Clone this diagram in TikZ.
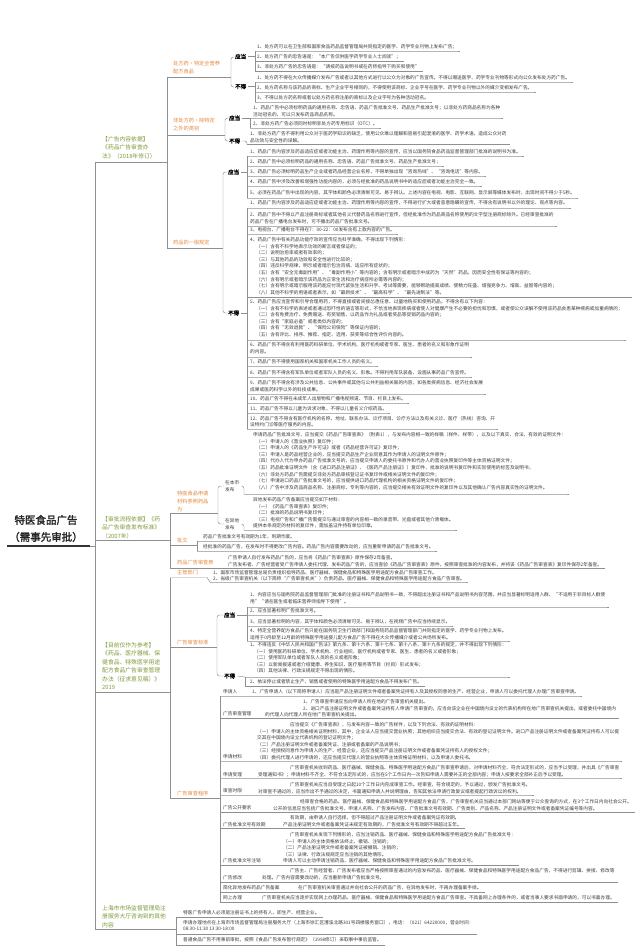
\documentclass[tikz,border=0pt]{standalone}
\usepackage{fontspec}
\setmainfont{Noto Sans CJK SC}[AutoFakeBold=2]
\newfontfamily\cjk{Noto Sans CJK SC}[AutoFakeBold=2]
\definecolor{lineC}{HTML}{8F8F8F}
\definecolor{txtC}{HTML}{3C3C3C}
\definecolor{orgC}{HTML}{E3893F}
\definecolor{grnC}{HTML}{7E9A3A}
\newcommand\itmfont{\cjk\fontsize{4.7}{6.55}\selectfont}
\newcommand\labfont{\cjk\bfseries\fontsize{5.5}{6.5}\selectfont}
\newcommand\orgfont{\cjk\fontsize{5.2}{8}\selectfont}
\newcommand\grnfont{\cjk\fontsize{5.8}{8.5}\selectfont}
\newcommand\rootfont{\cjk\bfseries\fontsize{10.5}{17}\selectfont}
\newcommand{\UL}[3]{\draw[ln] (#1,#2) -- (#3.east |- 0,#2) -- ++(3,0);}
\tikzset{
 ln/.style={draw=lineC, line width=0.45pt},
 itm/.style={font=\itmfont, text=txtC, inner sep=0pt, align=left, anchor=west},
 lab/.style={font=\labfont, text=black, inner sep=0pt, anchor=west},
 org/.style={font=\orgfont, text=orgC, inner sep=0pt, align=left, anchor=west},
 grn/.style={font=\grnfont, text=grnC, inner sep=0pt, align=left, anchor=west},
 rootn/.style={font=\rootfont, text=black!85, inner sep=0pt, align=center},
 brk/.style={ln, rounded corners=2.5pt}
}
\begin{document}
\begin{tikzpicture}[x=1pt,y=-1pt]
\fill[white] (0,0) rectangle (640,950);
\useasboundingbox (0,0) rectangle (640,950);

% ---------- root and trunk
\node[rootn] (root) at (46,528.5) {特医食品广告\\（需事先审批）};
\draw[black!80, line width=1.2pt] (7,546) -- (90,546);
\draw[ln] (90,546) -- (95,546);
\draw[ln] (95,162) -- (95,929);

% ---------- branch 1
\node[grn] (g1) at (102,147.5) {【广告内容依据】\\《药品广告审查办\\法》（2018年修订）};
\draw[ln] (95,162) -- (167,162);
\draw[ln] (167,77) -- (167,248);

% sub 1
\node[org] (o1) at (173,68) {处方药·特定全营养\\配方食品};
\draw[ln] (167,77) -- (231,77);
\draw[brk] (234,57) -- (231,57) -- (231,87) -- (234,87);
\node[lab] (y1) at (235,56.5) {应当};
\node[lab] (n1) at (235,86.5) {不得};
\draw[ln] ([xshift=2pt]y1.east) -- (255,56.5);
\draw[ln] (255,51) -- (255,71.5);
\node[itm] (a1) at (257,47) {1、处方药可以在卫生部和国家食品药品监督管理局共同指定的医学、药学专业刊物上发布广告；};
\UL{255}{51}{a1}
\node[itm] (a2) at (257,57) {2、处方药广告的忠告语是：“本广告仅供医学药学专业人士阅读”；};
\UL{255}{61.5}{a2}
\node[itm] (a3) at (257,67) {3、非处方药广告的忠告语是：“请按药品说明书或在药师指导下购买和使用”};
\UL{255}{71.5}{a3}
\draw[ln] ([xshift=2pt]n1.east) -- (255,86.5);
\draw[ln] (255,82) -- (255,102);
\node[itm] (a4) at (257,78) {1、处方药不得在大众传播媒介发布广告或者以其他方式进行以公众为对象的广告宣传。不得以赠送医学、药学专业刊物等形式向公众发布处方药广告。};
\UL{255}{82}{a4}
\node[itm] (a5) at (257,88) {2、处方药名称与该药品的商标、生产企业字号相同的，不得使用该商标、企业字号在医学、药学专业刊物以外的媒介变相发布广告。};
\UL{255}{92}{a5}
\node[itm] (a6) at (257,98) {3、不得以处方药名称或者以处方药名称注册的商标以及企业字号为各种活动冠名。};
\UL{255}{102}{a6}

% sub 2
\node[org] (o2) at (173,125) {非处方药·除特定\\之外的类别};
\draw[ln] (167,135) -- (225,135);
\draw[brk] (229,118) -- (225,118) -- (225,141) -- (229,141);
\node[lab] (y2) at (229,118) {应当};
\node[lab] (n2) at (229,141) {不得};
\draw[ln] ([xshift=2pt]y2.east) -- (250,118);
\draw[ln] (250,118) -- (250,128);
\node[itm] (b1) at (253,111.3) {1、药品广告中必须标明药品的通用名称、忠告语、药品广告批准文号、药品生产批准文号；以非处方药商品名称为各种\\活动冠名的，可以只发布药品商品名称。};
\UL{250}{118}{b1}
\node[itm] (b2) at (253,124) {2、非处方药广告必须同时标明非处方药专用标识（OTC）。};
\UL{250}{128}{b2}
\draw[brk] ([xshift=2pt]n2.east) -- (247,141) -- (247,144.5);
\node[itm] (b3) at (250,137.3) {1、非处方药广告不得利用公众对于医药学知识的缺乏，使用公众难以理解和容易引起混淆的医学、药学术语，造成公众对药\\品功效与安全性的误解。};
\UL{247}{144.5}{b3}

% sub 3
\node[org] (o3) at (173,243) {药品的一般规定};
\draw[ln] (167,248) -- (223,248);
\draw[brk] (228,172) -- (223,172) -- (223,313) -- (228,313);
\node[lab] (y3) at (228,172) {应当};
\node[lab] (n3) at (228,313) {不得};
\draw[ln] ([xshift=2pt]y3.east) -- (247,172);
\draw[ln] (247,156) -- (247,198);
\node[itm] (c1) at (250,152) {1、药品广告内容涉及药品适应症或者功能主治、药理作用等内容的宣传，应当以国务院食品药品监督管理部门批准的说明书为准。};
\UL{247}{156}{c1}
\node[itm] (c2) at (250,162) {2、药品广告中必须标明药品的通用名称、忠告语、药品广告批准文号、药品生产批准文号；};
\UL{247}{166}{c2}
\node[itm] (c3) at (250,172) {3、药品广告必须标明药品生产企业或者药品经营企业名称，不得单独出现“咨询热线”、“咨询电话”等内容。};
\UL{247}{176}{c3}
\node[itm] (c4) at (250,181.5) {4、药品广告中涉及改善和增强性功能内容的，必须与经批准的药品说明书中的适应症或者功能主治完全一致。};
\UL{247}{186}{c4}
\node[itm] (c5) at (250,193) {5、必须在药品广告中出现的内容，其字体和颜色必须清晰可见、易于辨认。上述内容在电视、电影、互联网、显示屏等媒体发布时，出现时间不得少于5秒。};
\UL{247}{198}{c5}
\draw[ln] ([xshift=2pt]n3.east) -- (247,313);
\draw[ln] (247,208) -- (247,429);
\node[itm] (c6) at (250,203) {1、药品广告内容涉及药品适应症或者功能主治、药理作用等内容的宣传，不得进行扩大或者恶意隐瞒的宣传，不得含有说明书以外的理论、观点等内容。};
\UL{247}{208}{c6}
\node[itm] (c7) at (250,218.3) {2、药品广告中不得以产品注册商标或者其他名义代替药品名称进行宣传，但经批准作为药品商品名称使用的文字型注册商标除外。已经审查批准的\\药品广告在广播电台发布时，可不播出药品广告批准文号。};
\UL{247}{226}{c7}
\node[itm] (c8) at (250,230) {3、电视台、广播电台不得在7：00-22：00发布含有上款内容的广告。};
\UL{247}{234}{c8}
\node[itm] (c9) at (250,266.2) {4、药品广告中有关药品功能疗效的宣传应当科学准确，不得出现下列情形：\\\hspace*{6pt}（一）含有不科学地表示功效的断言或者保证的；\\\hspace*{6pt}（二）说明治愈率或者有效率的；\\\hspace*{6pt}（三）与其他药品的功效和安全性进行比较的；\\\hspace*{6pt}（四）违反科学规律，明示或者暗示包治百病、适应所有症状的；\\\hspace*{6pt}（五）含有“安全无毒副作用”、“毒副作用小”等内容的；含有明示或者暗示中成药为“天然”药品，因而安全性有保证等内容的；\\\hspace*{6pt}（六）含有明示或者暗示该药品为正常生活和治疗病症所必需等内容的；\\\hspace*{6pt}（七）含有明示或暗示服用该药能应付现代紧张生活和升学、考试等需要，能够帮助提高成绩、使精力旺盛、增强竞争力、增高、益智等内容的；\\\hspace*{6pt}（八）其他不科学的用语或者表示，如“最新技术”、“最高科学”、“最先进制法”等。};
\draw[ln] (247,297) -- (632,297);
\node[itm] (c10) at (250,318.4) {5、药品广告应当宣传和引导合理用药，不得直接或者间接怂恿任意、过量地购买和使用药品，不得含有以下内容：\\\hspace*{6pt}（一）含有不科学的表述或者通过恐吓性的语言等形式，不恰当地表现疾病或者使人对健康产生不必要的担忧和恐惧，或者使公众误解不使用该药品会患某种疾病或加重病情的；\\\hspace*{6pt}（二）含有免费治疗、免费赠送、有奖销售、以药品作为礼品或者奖品等促销药品内容的；\\\hspace*{6pt}（三）含有“家庭必备”或者类似内容的；\\\hspace*{6pt}（四）含有“无效退款”、“保险公司保险”等保证内容的；\\\hspace*{6pt}（五）含有评比、排序、推荐、指定、选用、获奖等综合性评价内容的。};
\UL{247}{340}{c10}
\node[itm] (c11) at (250,348.3) {6、药品广告不得含有利用医药科研单位、学术机构、医疗机构或者专家、医生、患者的名义和形象作证明\\的内容。};
\UL{247}{357}{c11}
\node[itm] (c12) at (250,362) {7、药品广告不得使用国家机关和国家机关工作人员的名义。};
\UL{247}{366}{c12}
\node[itm] (c13) at (250,373) {8、药品广告不得含有军队单位或者军队人员的名义、形象。不得利用军队装备、设施从事药品广告宣传。};
\UL{247}{377}{c13}
\node[itm] (c14) at (250,386.3) {9、药品广告不得含有涉及公共信息、公共事件或其他与公共利益相关联的内容，如各类疾病信息、经济社会发展\\成果或医药科学以外的科技成果。};
\UL{247}{394}{c14}
\node[itm] (c15) at (250,399) {10、药品广告不得在未成年人出版物和广播电视频道、节目、栏目上发布。};
\UL{247}{403}{c15}
\node[itm] (c16) at (250,409) {11、药品广告不得以儿童为诉求对象，不得以儿童名义介绍药品。};
\UL{247}{413}{c16}
\node[itm] (c17) at (250,421.8) {12、药品广告不得含有医疗机构的名称、地址、联系办法、诊疗项目、诊疗方法以及有关义诊、医疗（热线）咨询、开\\设特约门诊等医疗服务的内容。};
\UL{247}{429}{c17}

% ---------- branch 2
\node[grn] (g2) at (102,527.5) {【审批流程依据】《药\\品广告审查发布标准》\\（2007年）};
\draw[ln] (95,540) -- (170,540);
\draw[ln] (170,513) -- (170,568.5);
\node[org] (o4) at (177,501) {特医食品申请\\材料参照药品\\为};
\draw[ln] (170,513) -- (218,513);
\draw[brk] (224,486) -- (218,486) -- (218,524) -- (224,524);
\node[itm] (s1) at (225,486) {在本市\\发布};
\node[itm] (s2) at (225,524) {在异地\\发布};
\draw[brk] ([xshift=2pt]s1.east) -- (244,486) -- (244,494);
\node[itm] (d1) at (253,461.2) {申请药品广告批准文号，应当提交《药品广告审查表》（附表1），与发布内容相一致的样稿（样件、样带），以及以下真实、合法、有效的证明文件：\\\hspace*{3pt}（一）申请人的《营业执照》复印件；\\\hspace*{3pt}（二）申请人的《药品生产许可证》或者《药品经营许可证》复印件；\\\hspace*{3pt}（三）申请人是药品经营企业的，应当提交药品生产企业同意其作为申请人的证明文件原件；\\\hspace*{3pt}（四）代办人代为申办药品广告批准文号的，应当提交申请人的委托书原件和代办人的营业执照复印件等主体资格证明文件；\\\hspace*{3pt}（五）药品批准证明文件（含《进口药品注册证》、《医药产品注册证》）复印件、批准的说明书复印件和实际使用的标签及说明书；\\\hspace*{3pt}（六）非处方药品广告需提交非处方药品审核登记证书复印件或相关证明文件的复印件；\\\hspace*{3pt}（七）申请进口药品广告批准文号的，应当提供进口药品代理机构的相关资格证明文件的复印件；\\\hspace*{3pt}（八）广告中涉及药品商品名称、注册商标、专利等内容的，应当提交相关有效证明文件的复印件以及其他确认广告内容真实性的证明文件。};
\UL{244}{494}{d1}
\draw[brk] ([xshift=2pt]s2.east) -- (244,524) -- (244,530);
\node[itm] (d2) at (253,513.1) {异地发布药品广告备案应当提交如下材料：\\\hspace*{3pt}（一）《药品广告审查表》复印件；\\\hspace*{3pt}（二）批准的药品说明书复印件；\\\hspace*{3pt}（三）电视广告和广播广告需提交与通过审查的内容相一致的录音带、光盘或者其他介质载体。\\提供本条规定的材料的复印件，需加盖证件持有单位印章。};
\UL{244}{530}{d2}

\node[org] (o5) at (177,540.5) {批文};
\draw[ln] (170,545) -- (197,545);
\draw[ln] (197,541) -- (197,551);
\node[itm] (e1) at (203,537) {药品广告批准文号有效期为1年，到期作废。};
\UL{197}{541}{e1}
\node[itm] (e2) at (203,547) {经批准的药品广告，在发布时不得更改广告内容。药品广告内容需要改动的，应当重新申请药品广告批准文号。};
\UL{197}{551}{e2}

\node[org] (o6) at (177,563) {药品广告审查表};
\node[itm] (f1) at (228,561.3) {广告申请人自行发布药品广告的，应当将《药品广告审查表》原件保存2年备查。\\广告发布者、广告经营者受广告申请人委托代理、发布药品广告的，应当查验《药品广告审查表》原件，按照审查批准的内容发布，并将该《药品广告审查表》复印件保存2年备查。};
\UL{170}{568.5}{f1}

% ---------- branch 3
\node[grn] (g3) at (102,666.3) {【目前仅作为参考】\\《药品、医疗器械、保\\健食品、特殊医学用途\\配方食品广告审查管理\\办法（征求意见稿）》\\2019};
\draw[ln] (95,692) -- (170,692);
\draw[ln] (170,577.5) -- (170,798);

\node[org] (o7) at (177,573) {主管部门};
\draw[ln] (170,577.5) -- (207,577.5) -- (210,582);
\node[itm] (gm) at (213,575.8) {1、国家市场监督管理总局负责组织指导药品、医疗器械、保健食品和特殊医学用途配方食品广告审查工作。\\2、省级广告审查机关（以下简称“广告审查机关”）负责药品、医疗器械、保健食品和特殊医学用途配方食品广告审查。};
\UL{210}{582}{gm}

\node[org] (o8) at (177,643) {广告审查标准};
\draw[ln] (170,647) -- (217,647);
\draw[brk] (224,615) -- (217,615) -- (217,676) -- (224,676);
\node[lab] (y4) at (224,615) {应当};
\node[lab] (n4) at (224,676) {不得};
\draw[ln] ([xshift=2pt]y4.east) -- (247,615);
\draw[ln] (247,607) -- (247,641);
\node[itm] (h1) at (250,598.3) {1、内容应当与国务院药品监督管理部门批准的注册证书和产品说明书一致，不得超出注册证书和产品说明书内容范围，并应当显著标明适用人群、“不适用于非目标人群使\\用”“请在医生或者临床营养师指导下使用”。};
\UL{247}{607}{h1}
\node[itm] (h2) at (250,611) {2、应当显著标明广告批准文号。};
\UL{247}{615}{h2}
\node[itm] (h3) at (250,622) {3、应当显著标明的内容，其字体和颜色必须清晰可见、易于辨认，在视频广告中应当持续显示。};
\UL{247}{626}{h3}
\node[itm] (h4) at (250,634.3) {4、特定全营养配方食品广告只能在国务院卫生行政部门和国务院药品监督管理部门共同指定的医学、药学专业刊物上发布。\\适用于0月龄至12月龄的特殊医学用途婴儿配方食品广告不得在大众传播媒介或者公共场所发布。};
\UL{247}{641}{h4}
\draw[ln] ([xshift=2pt]n4.east) -- (245,677);
\draw[ln] (245,677) -- (245,686.5);
\node[itm] (i1) at (250,658.1) {1、不得违反《中华人民共和国广告法》第九条、第十六条、第十七条、第十八条、第十九条的规定，并不得出现下列情形：\\\hspace*{4pt}（一）使用医药科研单位、学术机构、行业组织、医疗机构或者专家、医生、患者的名义或者形象；\\\hspace*{4pt}（二）使用军队单位或者军队人员的名义或者形象；\\\hspace*{4pt}（三）以新闻报道或者介绍健康、养生知识、医疗服务等节目（栏目）形式发布；\\\hspace*{4pt}（四）其他法律、行政法规规定不得出现的情形。};
\UL{245}{677}{i1}
\node[itm] (i2) at (250,682) {2、依法停止或者禁止生产、销售或者使用的特殊医学用途配方食品不得发布广告。};
\UL{245}{686.5}{i2}

\node[org] (o9) at (177,794) {广告审查程序};
\draw[ln] (170,798) -- (220,798);
\draw[ln] (220,696) -- (220,902);
\node[itm] (k1) at (223,691.5) {申请人};
\node[itm] (j1) at (252,692) {1、广告申请人（以下简称申请人）应当是产品注册证明文件或者备案凭证持有人及其授权同意的生产、经营企业，申请人可以委托代理人办理广告审查申请。};
\UL{220}{696}{j1}
\node[itm] (k2) at (223,714) {广告审查管理};
\node[itm] (j2) at (265,708.6) {\hspace*{38pt}1、广告审查申请应当向申请人所在地的广告审查机关提出。\\\hspace*{38pt}2、进口产品注册证明文件或者备案凭证持有人申请广告审查的，应当向该企业在中国境内设立的代表机构所在地广告审查机关提出，或者委托中国境内\\的代理人向代理人所在地广告审查机关提出。};
\UL{220}{718.5}{j2}
\node[itm] (k3) at (223,757) {申请材料};
\node[itm] (j3) at (257,741.4) {\hspace*{33pt}应当提交《广告审查表》，与发布内容一致的广告样件，以及下列合法、有效的证明材料：\\（一）申请人的主体资格相关证明材料，其中，企业法人应当提交营业执照；其他组织应当提交合法、有效的登记证明文件。进口产品注册证明文件或者备案凭证持有人可以提\\交其在中国境内设立代表机构的登记证明文件；\\（二）产品注册证明文件或者备案凭证、注册或者备案的产品说明书；\\（三）经授权同意作为申请人的生产、经营企业，还应当提交产品注册证明文件或者备案凭证持有人的授权文件；\\（四）委托代理人进行申请的，还应当提交代理人的营业执照等主体资格证明材料，以及申请人委托书。};
\UL{220}{761}{j3}
\node[itm] (k4) at (223,774.5) {申请受理};
\node[itm] (j4) at (258,771.3) {\hspace*{32pt}广告审查机关收到药品、医疗器械、保健食品、特殊医学用途配方食品广告审查申请后，对申请材料齐全、符合法定形式的，应当予以受理，并出具《广告审查\\受理通知书》；申请材料不齐全、不符合法定形式的，应当在5个工作日内一次告知申请人需要补正的全部内容；申请人按要求全部补正后予以受理。};
\UL{220}{778}{j4}
\node[itm] (k5) at (223,791) {审查时限};
\node[itm] (j5) at (258,788.3) {\hspace*{32pt}广告审查机关应当自受理之日起10个工作日内完成审查工作。经审查，符合规定的，予以通过，颁发广告批准文号。\\对审查不通过的，应当作出不予通过的决定，书面通知申请人并说明理由，告知其依法申请行政复议或者提起行政诉讼的权利。};
\UL{220}{795}{j5}
\node[itm] (k6) at (223,808) {广告公开要求};
\node[itm] (j6) at (273,805.3) {\hspace*{27pt}经审查合格的药品、医疗器械、保健食品和特殊医学用途配方食品广告，广告审查机关应当通过本部门网站等便于公众查询的方式，在3个工作日内向社会公开。\\公开的信息应当包括广告批准文号、申请人名称、广告发布内容、广告批准文号有效期、广告类别、产品名称、产品注册证明文件或者备案凭证编号等内容。};
\UL{220}{812}{j6}
\node[itm] (k7) at (223,824.5) {广告批准文号有效期};
\node[itm] (j7) at (283,821.3) {\hspace*{7pt}有效期，由申请人自行选择，但不得超过产品注册证明文件或者备案凭证有效期。\\产品注册证明文件或者备案凭证未规定有效期的，广告批准文号有效期不得超过五年。};
\UL{220}{828}{j7}
\node[itm] (k8) at (223,861) {广告批准文号注销};
\node[itm] (j8) at (283,848.1) {\hspace*{7pt}广告审查机关发现下列情形的，应当注销药品、医疗器械、保健食品和特殊医学用途配方食品广告批准文号：\\（一）申请人的主体资格依法终止、撤销、注销的；\\（二）产品注册证明文件或者备案凭证被撤销、注销的；\\（三）法律、行政法规规定应当注销的其他情形。\\申请人可以主动申请注销药品、医疗器械、保健食品和特殊医学用途配方食品广告批准文号。};
\UL{220}{865}{j8}
\node[itm] (k9) at (223,877.5) {广告修改};
\node[itm] (j9) at (262,874.3) {\hspace*{28pt}广告主、广告经营者、广告发布者应当严格按照审查通过的内容发布药品、医疗器械、保健食品和特殊医学用途配方食品广告，不得进行剪辑、拼接、修改等\\处理。广告内容需要改动的，应当重新申请广告批准文号。};
\UL{220}{882}{j9}
\node[itm] (k10) at (223,888) {简化异地发布药品广告备案};
\node[itm] (j10) at (298,888) {在广告审查机关审查通过并向社会公开的药品广告，在异地发布时，不再办理备案手续。};
\UL{220}{892}{j10}
\node[itm] (k11) at (223,898) {网上办理};
\node[itm] (j11) at (262,898) {广告审查机关应当逐步实现网上办理药品、医疗器械、保健食品和特殊医学用途配方食品广告审查。不具备网上办理条件的，或者当事人要求书面申请的，可以书面办理。};
\UL{220}{902}{j11}

% ---------- branch 4
\node[grn] (g4) at (102,916.5) {上海市市场监督管理局注\\册服务大厅咨询到的其他\\内容};
\draw[ln] (95,929) -- (176,929);
\draw[ln] (176,917) -- (176,945);
\node[itm] (p1) at (183,913) {特医广告申请人必须是注册证书上的持有人，即生产、经营企业。};
\UL{176}{917}{p1}
\node[itm] (p2) at (183,925.3) {申请办理地点在上海市市场监督管理局注册服务大厅（上海市徐汇区漕溪北路301号四楼服务窗口），电话：（021）64220000，营业时间：\\08:30-11:30 13:30-18:00};
\UL{176}{934}{p2}
\node[itm] (p3) at (183,940) {普通食品广告不用事前审批，按照《食品广告发布暂行规定》（1998修订）采取事中事后监管。};
\UL{176}{945}{p3}
\end{tikzpicture}
\end{document}
